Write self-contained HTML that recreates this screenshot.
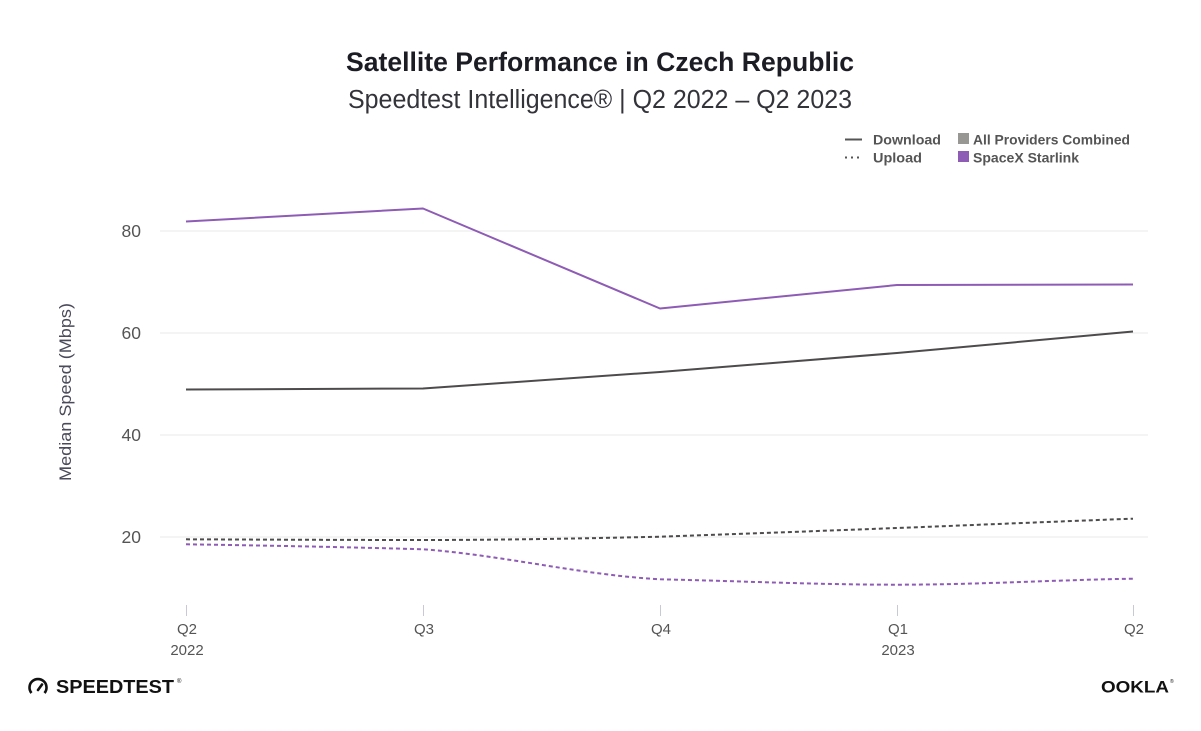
<!DOCTYPE html>
<html>
<head>
<meta charset="utf-8">
<style>
  html, body { margin:0; padding:0; background:#ffffff; }
  body { width:1201px; height:731px; overflow:hidden; }
  svg { display:block; }
  text { font-family: "Liberation Sans", "DejaVu Sans", sans-serif; }
</style>
</head>
<body>
<svg width="1201" height="731" viewBox="0 0 1201 731" xmlns="http://www.w3.org/2000/svg">
  <rect x="0" y="0" width="1201" height="731" fill="#ffffff"/>

  <!-- Title -->
  <text x="600" y="71" text-anchor="middle" font-size="27" font-weight="bold" fill="#1c1c24" textLength="508" lengthAdjust="spacingAndGlyphs">Satellite Performance in Czech Republic</text>
  <text x="600" y="108" text-anchor="middle" font-size="25.5" fill="#33333a" textLength="504" lengthAdjust="spacingAndGlyphs">Speedtest Intelligence® | Q2 2022 – Q2 2023</text>

  <!-- Legend -->
  <line x1="845" y1="139.5" x2="862" y2="139.5" stroke="#555" stroke-width="2"/>
  <text x="873" y="144.5" font-size="14" font-weight="bold" fill="#555" textLength="68" lengthAdjust="spacingAndGlyphs">Download</text>
  <line x1="845" y1="157.5" x2="862" y2="157.5" stroke="#555" stroke-width="2" stroke-dasharray="2,4"/>
  <text x="873" y="162.5" font-size="14" font-weight="bold" fill="#555" textLength="49" lengthAdjust="spacingAndGlyphs">Upload</text>
  <rect x="958" y="133" width="11" height="11" fill="#999793"/>
  <text x="973" y="144.5" font-size="14" font-weight="bold" fill="#555" textLength="157" lengthAdjust="spacingAndGlyphs">All Providers Combined</text>
  <rect x="958" y="151" width="11" height="11" fill="#8e5bb5"/>
  <text x="973" y="162.5" font-size="14" font-weight="bold" fill="#555" textLength="106" lengthAdjust="spacingAndGlyphs">SpaceX Starlink</text>

  <!-- Grid lines -->
  <g stroke="#f1f1f1" stroke-width="1.5">
    <line x1="160" y1="231" x2="1148" y2="231"/>
    <line x1="160" y1="333" x2="1148" y2="333"/>
    <line x1="160" y1="435" x2="1148" y2="435"/>
    <line x1="160" y1="537" x2="1148" y2="537"/>
  </g>

  <!-- Y tick labels -->
  <g font-size="17.5" fill="#555" text-anchor="end">
    <text x="141" y="237">80</text>
    <text x="141" y="339">60</text>
    <text x="141" y="441">40</text>
    <text x="141" y="543">20</text>
  </g>

  <!-- Y axis title -->
  <text transform="translate(71,392) rotate(-90)" text-anchor="middle" font-size="17" fill="#4a4a5a" textLength="178" lengthAdjust="spacingAndGlyphs">Median Speed (Mbps)</text>

  <!-- X ticks -->
  <g stroke="#c8c8d6" stroke-width="1">
    <line x1="186.5" y1="605" x2="186.5" y2="616"/>
    <line x1="423.5" y1="605" x2="423.5" y2="616"/>
    <line x1="660.5" y1="605" x2="660.5" y2="616"/>
    <line x1="897.5" y1="605" x2="897.5" y2="616"/>
    <line x1="1133.5" y1="605" x2="1133.5" y2="616"/>
  </g>
  <g font-size="15" fill="#555" text-anchor="middle">
    <text x="187" y="634">Q2</text>
    <text x="187" y="655">2022</text>
    <text x="424" y="634">Q3</text>
    <text x="661" y="634">Q4</text>
    <text x="898" y="634">Q1</text>
    <text x="898" y="655">2023</text>
    <text x="1134" y="634">Q2</text>
  </g>

  <!-- Series -->
  <polyline fill="none" stroke="#8e5bb5" stroke-width="2" stroke-linejoin="round"
    points="186,221.5 423,208.5 660,308.5 897,285 1133,284.5"/>
  <polyline fill="none" stroke="#4d4b4b" stroke-width="2" stroke-linejoin="round"
    points="186,389.5 423,388.5 660,372 897,353 1133,331.5"/>
  <path fill="none" stroke="#4d4b4b" stroke-width="2" stroke-dasharray="4,3"
    d="M186,539.3 C265,539.6 344,540 423,540 C502,540 581,538.5 660,536.7 C739,534 818,531 897,528 C976,525 1055,521.5 1133,518.7"/>
  <path fill="none" stroke="#8e5bb5" stroke-width="2" stroke-dasharray="4,3"
    d="M186,544.3 C265,545.5 344,547 423,549.3 C502,555 581,575 660,579.3 C739,581 818,584.7 897,584.7 C976,584.7 1055,580 1133,578.7"/>

  <!-- Speedtest logo -->
  <g>
    <path d="M31.5,693 A8.5,8.5 0 1 1 44.5,693" fill="none" stroke="#111" stroke-width="2.6" stroke-linecap="butt"/>
    <line x1="38" y1="690" x2="42" y2="684.5" stroke="#111" stroke-width="2.6" stroke-linecap="round"/>
    <text x="56" y="693" font-size="18.5" font-weight="bold" fill="#111" textLength="118" lengthAdjust="spacingAndGlyphs">SPEEDTEST</text>
    <text x="177" y="683" font-size="6" fill="#111">®</text>
  </g>

  <!-- Ookla logo -->
  <g>
    <text x="1101" y="692.5" font-size="16.5" fill="#111" textLength="68" lengthAdjust="spacingAndGlyphs" font-weight="bold">OOKLA</text>
    <text x="1170" y="683" font-size="5" fill="#111">®</text>
  </g>
</svg>
</body>
</html>
